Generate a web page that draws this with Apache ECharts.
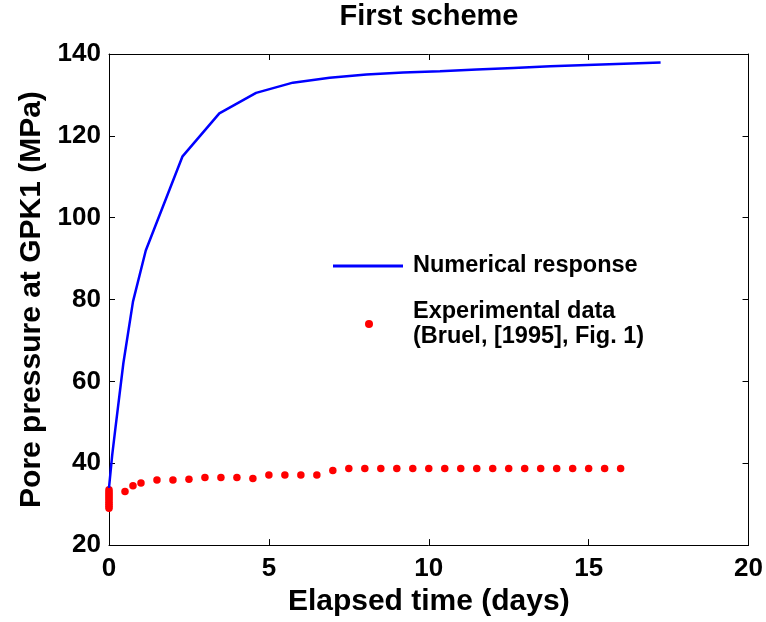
<!DOCTYPE html>
<html>
<head>
<meta charset="utf-8">
<script src="https://cdn.jsdelivr.net/npm/echarts@6/dist/echarts.min.js"></script>
<style>
  html, body { margin: 0; padding: 0; background: #fff; }
  #chart { width: 766px; height: 622px; }
</style>
</head>
<body>
<div id="chart"></div>
<script>
// numerical response (blue line)
var lineX = [0, 0.1, 0.2, 0.45, 0.75, 1.15, 2.3, 3.45, 4.6, 5.75, 6.9, 8.05, 9.2, 10.35, 11.5, 12.65, 13.8, 14.95, 16.1, 17.25];
var lineY = [34, 42, 48.5, 64.5, 79.5, 92, 115, 125.5, 130.5, 133, 134.2, 135, 135.5, 135.8, 136.2, 136.6, 137, 137.3, 137.6, 137.9];

// experimental data (red dots)
var expX = [0, 0, 0, 0, 0, 0, 0, 0, 0, 0,
	0.5, 0.75, 1, 1.5, 2, 2.5, 3, 3.5, 4, 4.5, 5, 5.5, 6, 6.5, 7, 7.5, 8, 8.5,
	9, 9.5, 10, 10.5, 11, 11.5, 12, 12.5, 13, 13.5, 14, 14.5, 15, 15.5, 16];
var expY = [29, 29.5, 30, 30.5, 31, 31.5, 32, 32.5, 33, 33.5,
	33.1, 34.5, 35.2, 35.9, 35.9, 36.1, 36.5, 36.5, 36.5, 36.3, 37.1, 37.1, 37.1, 37.1, 38.2, 38.7, 38.7, 38.7,
	38.7, 38.7, 38.7, 38.7, 38.7, 38.7, 38.7, 38.7, 38.7, 38.7, 38.7, 38.7, 38.7, 38.7, 38.7];

var xTicks = [0, 20, 5];   // min, max, interval
var yTicks = [20, 140, 20];

var lineName = 'Numerical response';
var expName = 'Experimental data\n(Bruel, [1995], Fig. 1)';

function zip(a, b) {
	var out = [];
	for (var i = 0; i < a.length; i++) out.push([a[i], b[i]]);
	return out;
}

var font = 'Liberation Sans, Arial, sans-serif';
var chart = echarts.init(document.getElementById('chart'));

var option = {
	backgroundColor: '#fff',
	animation: false,
	title: {
		text: 'First scheme',
		left: 429,
		textAlign: 'center',
		top: 2,
		padding: 0,
		textStyle: { fontFamily: font, fontWeight: 'bold', fontSize: 29, color: '#000' }
	},
	grid: { left: 109, right: 17, top: 54, bottom: 76 },
	legend: [{
		data: [lineName],
		left: 333,
		top: 254,
		padding: 0,
		icon: 'rect',
		itemWidth: 70,
		itemHeight: 3,
		textStyle: { fontFamily: font, fontWeight: 'bold', fontSize: 23.5, color: '#000', padding: [0, 0, 0, 5] }
	}, {
		data: [expName],
		left: 365,
		top: 296,
		padding: 0,
		icon: 'circle',
		itemWidth: 8,
		itemHeight: 8,
		textStyle: { fontFamily: font, fontWeight: 'bold', fontSize: 23.5, lineHeight: 25, color: '#000', padding: [6, 0, 0, 35] }
	}],
	xAxis: [{
		type: 'value',
		min: xTicks[0], max: xTicks[1], interval: xTicks[2],
		name: 'Elapsed time (days)',
		nameLocation: 'middle',
		nameGap: 41,
		nameTextStyle: { fontFamily: font, fontWeight: 'bold', fontSize: 30, color: '#000' },
		axisLine: { onZero: false, lineStyle: { color: '#000', width: 1 } },
		axisTick: { inside: true, length: 6, lineStyle: { color: '#000' } },
		axisLabel: { margin: 11, fontFamily: font, fontWeight: 'bold', fontSize: 26, color: '#000' },
		splitLine: { show: false }
	}, {
		type: 'value',
		position: 'top',
		min: xTicks[0], max: xTicks[1], interval: xTicks[2],
		axisLine: { onZero: false, lineStyle: { color: '#000', width: 1 } },
		axisTick: { inside: true, length: 6, lineStyle: { color: '#000' } },
		axisLabel: { show: false },
		splitLine: { show: false }
	}],
	yAxis: [{
		type: 'value',
		min: yTicks[0], max: yTicks[1], interval: yTicks[2],
		name: 'Pore pressure at GPK1 (MPa)',
		nameLocation: 'middle',
		nameGap: 60,
		nameTextStyle: { fontFamily: font, fontWeight: 'bold', fontSize: 30, color: '#000' },
		axisLine: { show: true, onZero: false, lineStyle: { color: '#000', width: 1 } },
		axisTick: { show: true, inside: true, length: 6, lineStyle: { color: '#000' } },
		axisLabel: { margin: 8, fontFamily: font, fontWeight: 'bold', fontSize: 26, color: '#000' },
		splitLine: { show: false }
	}, {
		type: 'value',
		position: 'right',
		min: yTicks[0], max: yTicks[1], interval: yTicks[2],
		axisLine: { show: true, onZero: false, lineStyle: { color: '#000', width: 1 } },
		axisTick: { show: true, inside: true, length: 6, lineStyle: { color: '#000' } },
		axisLabel: { show: false },
		splitLine: { show: false }
	}],
	series: [{
		name: lineName,
		type: 'line',
		symbol: 'none',
		data: zip(lineX, lineY),
		lineStyle: { color: '#0000ff', width: 2.5 },
		itemStyle: { color: '#0000ff' },
		z: 3
	}, {
		name: expName,
		type: 'scatter',
		symbol: 'circle',
		symbolSize: 7.5,
		clip: false,
		data: zip(expX, expY),
		itemStyle: { color: '#ff0000', opacity: 1 },
		z: 2
	}]
};
chart.setOption(option);
</script>
</body>
</html>
